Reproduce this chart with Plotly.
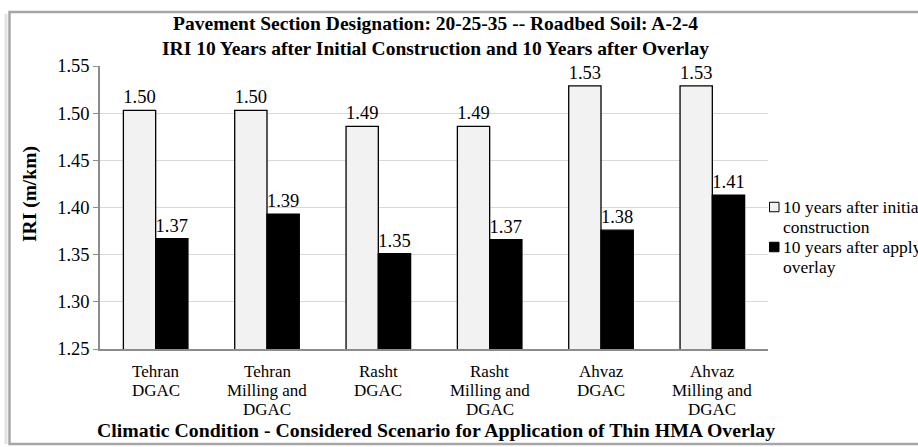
import plotly.graph_objects as go

# Scenario categories (climate + rehabilitation method)
categories = [
    "Tehran<br>DGAC",
    "Tehran<br>Milling and<br>DGAC",
    "Rasht<br>DGAC",
    "Rasht<br>Milling and<br>DGAC",
    "Ahvaz<br>DGAC",
    "Ahvaz<br>Milling and<br>DGAC",
]

# IRI (m/km) after 10 years
iri_initial = [1.503, 1.503, 1.486, 1.486, 1.529, 1.529]
iri_overlay = [1.367, 1.393, 1.351, 1.366, 1.376, 1.413]

series_names = [
    "10 years after initial<br>construction",
    "10 years after applying<br>overlay",
]
series_colors = ["#f2f2f2", "#000000"]

y_ticks = [1.25, 1.30, 1.35, 1.40, 1.45, 1.50, 1.55]

FONT = "Liberation Serif, Times New Roman, serif"

# plot area in pixels
W, H = 918, 447
L, R, T, B = 100, 150, 66, 98
PW, PH = W - L - R, H - T - B


def px_x(px):
    return (px - L) / PW


def px_y(py):
    return (H - B - py) / PH


fig = go.Figure()
for vals, name, col in zip([iri_initial, iri_overlay], series_names, series_colors):
    fig.add_trace(go.Bar(
        x=categories, y=vals, name=name,
        marker=dict(color=col, line=dict(color="#000000", width=1.3)),
        text=[f"{v:.2f}" for v in vals], textposition="outside",
        constraintext="none",
        textfont=dict(family=FONT, size=18.5, color="#000000"),
        cliponaxis=False, showlegend=False,
    ))

fig.update_layout(
    width=W, height=H,
    margin=dict(l=L, r=R, t=T, b=B),
    paper_bgcolor="white", plot_bgcolor="white",
    barmode="group", bargap=0.42, bargroupgap=0,
    font=dict(family=FONT, color="#000000"),
    showlegend=False,
    xaxis=dict(
        showline=True, linecolor="#8c8c8c", linewidth=1.5,
        ticks="", showgrid=False, showticklabels=False,
    ),
    yaxis=dict(
        range=[1.25, 1.55], tickvals=y_ticks, tickformat=".2f",
        ticksuffix="\u00a0",
        showline=True, linecolor="#8c8c8c", linewidth=1.5,
        ticks="outside", ticklen=5, tickcolor="#8c8c8c",
        showgrid=True, gridcolor="#d9d9d9", gridwidth=1,
        zeroline=False,
        tickfont=dict(family=FONT, size=18.5, color="#000000"),
    ),
)

# Chart title
fig.add_annotation(
    text="<b>Pavement Section Designation: 20-25-35 -- Roadbed Soil: A-2-4<br>"
         "IRI 10 Years after Initial Construction and 10 Years after Overlay</b>",
    xref="paper", yref="paper", x=px_x(435), y=px_y(10.5),
    xanchor="center", yanchor="top", showarrow=False,
    font=dict(family=FONT, size=19.5, color="#000000"),
)

# Category labels, one line at a time under each group
for cat in categories:
    for i, line in enumerate(cat.split("<br>")):
        fig.add_annotation(
            text=line, xref="x", yref="paper", x=cat,
            y=px_y(371.5 + 19 * i), xanchor="center", yanchor="middle",
            showarrow=False, font=dict(family=FONT, size=17, color="#000000"),
        )

# Axis titles
fig.add_annotation(
    text="<b>IRI (m/km)</b>", textangle=-90,
    xref="paper", yref="paper", x=px_x(30), y=px_y(194),
    xanchor="center", yanchor="middle", showarrow=False,
    font=dict(family=FONT, size=19.5, color="#000000"),
)
fig.add_annotation(
    text="<b>Climatic Condition - Considered Scenario for Application of Thin HMA Overlay</b>",
    xref="paper", yref="paper", x=px_x(436), y=px_y(430),
    xanchor="center", yanchor="middle", showarrow=False,
    font=dict(family=FONT, size=19.8, color="#000000"),
)

# Legend: swatches and labels to the right of the plot
for i, (name, col) in enumerate(zip(series_names, series_colors)):
    cy = 207 + 40 * i
    fig.add_shape(
        type="rect", xref="paper", yref="paper",
        x0=px_x(769.5), x1=px_x(779), y0=px_y(cy + 4.75), y1=px_y(cy - 4.75),
        fillcolor=col, line=dict(color="#000000", width=1),
    )
    for j, line in enumerate(name.split("<br>")):
        fig.add_annotation(
            text=line, xref="paper", yref="paper", align="left",
            x=px_x(781), y=px_y(cy + 20 * j), xanchor="left", yanchor="middle",
            showarrow=False, font=dict(family=FONT, size=17.5, color="#000000"),
        )

# Chart frame with soft left shadow
fig.add_shape(
    type="line", xref="paper", yref="paper",
    x0=px_x(6), x1=px_x(6), y0=px_y(444), y1=px_y(14),
    line=dict(color="#e2e2e2", width=3), layer="below",
)
fig.add_shape(
    type="rect", xref="paper", yref="paper",
    x0=px_x(9.5), x1=px_x(940), y0=px_y(444), y1=px_y(12),
    line=dict(color="#a6a6a6", width=2.5), fillcolor="rgba(0,0,0,0)",
    layer="below",
)

fig.write_html("out.html")
